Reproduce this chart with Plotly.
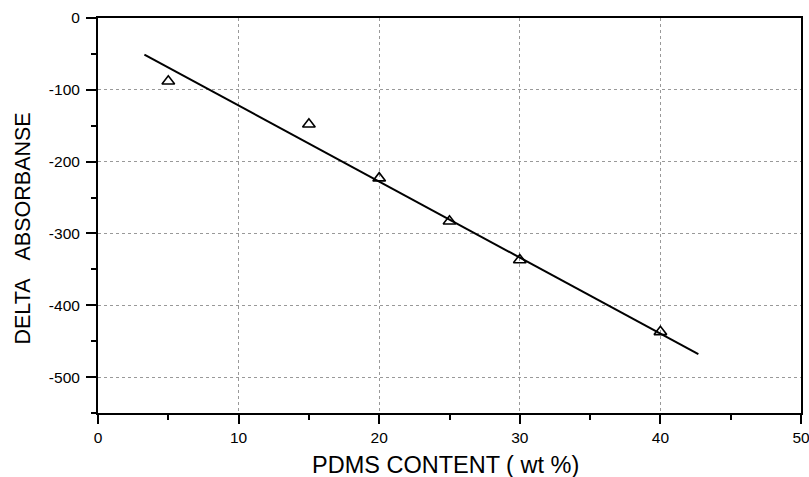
import plotly.graph_objects as go

pdms_content = [5, 15, 20, 25, 30, 40]
delta_absorbance = [-88, -148, -223, -283, -337, -437]

fit_x = [3.3, 42.7]
fit_y = [-51, -468]

x_ticks = [0, 10, 20, 30, 40, 50]
y_ticks = [0, -100, -200, -300, -400, -500]

x_title = "PDMS CONTENT ( wt %)"
y_title = "DELTA&nbsp;&nbsp;&nbsp;ABSORBANSE"

fig = go.Figure()
fig.add_trace(go.Scatter(
    x=fit_x, y=fit_y, mode="lines",
    line=dict(color="black", width=2), showlegend=False))
fig.add_trace(go.Scatter(
    x=pdms_content, y=delta_absorbance, mode="markers",
    marker=dict(symbol="triangle-up-open", size=11, color="black",
                line=dict(color="black", width=1.6)),
    showlegend=False, cliponaxis=False))

font_family = "Liberation Sans, Arial, sans-serif"
fig.update_layout(
    width=809, height=477,
    margin=dict(l=98, r=8, t=18, b=64),
    paper_bgcolor="white", plot_bgcolor="white",
    font=dict(family=font_family, color="black", size=15.5),
)
fig.update_xaxes(
    range=[0, 50], tickvals=x_ticks, ticktext=[str(v) for v in x_ticks],
    showline=True, linecolor="black", linewidth=2, mirror=True,
    ticks="outside", ticklen=9, tickwidth=1.5, tickcolor="black",
    ticklabelstandoff=0, ticklabeloverflow="allow",
    showgrid=True, gridcolor="#999999", griddash="dot", gridwidth=1,
    zeroline=False, automargin=False,
    minor=dict(dtick=5, tick0=0, ticks="outside", ticklen=5, tickwidth=1.5,
               tickcolor="black", showgrid=False),
    tickfont=dict(size=15.5),
)
fig.update_yaxes(
    range=[-550, 0], tickvals=y_ticks, ticktext=[str(v) for v in y_ticks],
    showline=True, linecolor="black", linewidth=2, mirror=True,
    ticks="outside", ticklen=10, tickwidth=1.5, tickcolor="black",
    ticklabelstandoff=3, ticklabeloverflow="allow",
    showgrid=True, gridcolor="#999999", griddash="dot", gridwidth=1,
    zeroline=False, automargin=False,
    minor=dict(dtick=50, tick0=0, ticks="outside", ticklen=5, tickwidth=1.5,
               tickcolor="black", showgrid=False),
    tickfont=dict(size=15.5),
)
fig.add_annotation(
    text=x_title, xref="paper", yref="paper", x=0.495, y=0,
    xanchor="center", yanchor="middle", yshift=-52, showarrow=False,
    font=dict(size=23.5, family=font_family, color="black"))
fig.add_annotation(
    text=y_title, xref="paper", yref="paper", x=0, y=0.5,
    xanchor="center", yanchor="middle", xshift=-76, yshift=-13,
    textangle=-90, showarrow=False,
    font=dict(size=21.5, family=font_family, color="black"))
fig.write_html(
    "out.html",
    config={"displayModeBar": False},
    post_script="document.body.style.margin='0px';document.body.style.overflow='hidden';")
